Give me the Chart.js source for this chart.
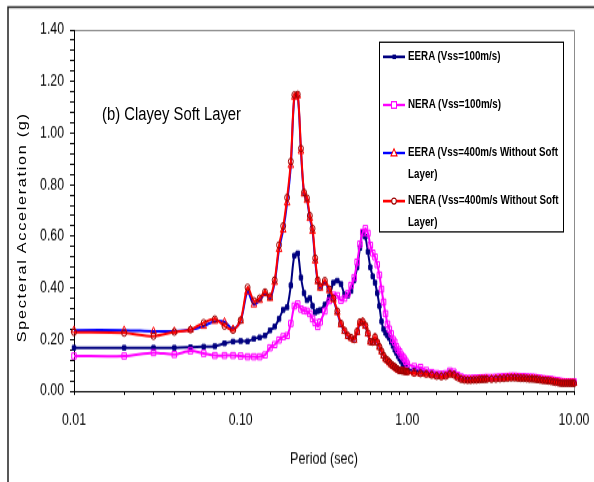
<!DOCTYPE html>
<html>
<head>
<meta charset="utf-8">
<script src="https://cdn.jsdelivr.net/npm/chart.js@4"></script>
<style>
  body { margin: 0; background: #fff; }
  #page { position: relative; width: 594px; height: 482px; }
  /* the original figure is stretched vertically: the chart is drawn 594x371
     and shown 482 px high, the text boxes are scaled the same way */
  #chart { position: absolute; left: 0; top: 0; }
  #wrap { position: absolute; left: 0; top: 0; width: 594px; height: 371px; transform: scaleY(1.2992); transform-origin: 0 0; }
  #note { position: absolute; left: 102px; top: 79px; font-family: "Liberation Sans", Arial, sans-serif;
          font-size: 14.8px; line-height: 17px; white-space: nowrap; }
  #ytitle { position: absolute; left: 22px; top: 174.6px; transform: translate(-50%, -50%) rotate(-90deg);
            font-family: "Liberation Sans", Arial, sans-serif; font-size: 12.5px; letter-spacing: 1.3px; white-space: nowrap; }
  #legend { position: absolute; left: 379px; top: 32.3px; width: 185px; height: 147px; box-sizing: border-box;
            border: 1px solid #000; background: #fff; padding-top: 2px; }
  .item { display: flex; height: 36.9px; }
  .item svg { margin-left: 3px; flex: none; }
  .item span { margin-left: 3px; width: 157px; font-family: "Liberation Sans", Arial, sans-serif;
               font-size: 9.8px; font-weight: bold; line-height: 16.9px; }
</style>
</head>
<body>
<div id="page">
  <canvas id="chart" width="594" height="371" style="width:594px;height:482px"></canvas>
  <div id="wrap">
    <div id="note">(b) Clayey Soft Layer</div>
    <div id="ytitle">Specteral Acceleration (g)</div>
    <div id="legend"></div>
  </div>
</div>
<script>
// period (sec)
const periods = [
  0.01, 0.02, 0.03, 0.04, 0.05, 0.06, 0.07, 0.08, 0.09, 0.10,
  0.11, 0.12, 0.13, 0.14, 0.15, 0.16, 0.17, 0.18, 0.19, 0.20,
  0.21, 0.22, 0.23, 0.24, 0.25, 0.26, 0.27, 0.28, 0.29, 0.30,
  0.32, 0.34, 0.36, 0.38, 0.40, 0.42, 0.44, 0.46, 0.48, 0.50,
  0.52, 0.54, 0.56, 0.58, 0.60, 0.62, 0.64, 0.66, 0.68, 0.70,
  0.72, 0.74, 0.76, 0.78, 0.80, 0.82, 0.84, 0.86, 0.88, 0.90,
  0.92, 0.94, 0.96, 0.98, 1.00,
  1.1, 1.2, 1.3, 1.4, 1.5, 1.6, 1.7, 1.8, 1.9, 2.0,
  2.1, 2.2, 2.3, 2.4, 2.5, 2.6, 2.7, 2.8, 2.9, 3.0,
  3.2, 3.4, 3.6, 3.8, 4.0, 4.2, 4.4, 4.6, 4.8, 5.0,
  5.2, 5.4, 5.6, 5.8, 6.0,
  6.25, 6.5, 6.75, 7.0, 7.25, 7.5, 7.75, 8.0, 8.25, 8.5,
  8.75, 9.0, 9.25, 9.5, 9.75, 10.0
];

// spectral acceleration (g)
const eera100 = [
  0.168, 0.168, 0.168, 0.168, 0.170, 0.172, 0.174, 0.185, 0.192, 0.194,
  0.193, 0.203, 0.208, 0.215, 0.235, 0.250, 0.280, 0.315, 0.325, 0.410,
  0.525, 0.534, 0.440, 0.380, 0.352, 0.360, 0.330, 0.305, 0.310, 0.314,
  0.335, 0.365, 0.420, 0.428, 0.415, 0.375, 0.370, 0.388, 0.430, 0.480,
  0.555, 0.615, 0.598, 0.540, 0.480, 0.445, 0.420, 0.380, 0.330, 0.270,
  0.240, 0.225, 0.215, 0.205, 0.190, 0.175, 0.160, 0.148, 0.135, 0.125,
  0.115, 0.105, 0.098, 0.090, 0.085,
  0.080, 0.078, 0.072, 0.068, 0.064, 0.062, 0.063, 0.072, 0.069, 0.058,
  0.050, 0.046, 0.045, 0.045, 0.046, 0.046, 0.047, 0.048, 0.048, 0.049,
  0.049, 0.050, 0.051, 0.052, 0.053, 0.054, 0.054, 0.053, 0.052, 0.052,
  0.051, 0.050, 0.050, 0.049, 0.048,
  0.046, 0.044, 0.043, 0.042, 0.041, 0.039, 0.037, 0.036, 0.034, 0.033,
  0.033, 0.033, 0.033, 0.033, 0.033, 0.033
];
const nera100 = [
  0.136, 0.136, 0.149, 0.142, 0.156, 0.146, 0.138, 0.138, 0.138, 0.136,
  0.133, 0.133, 0.133, 0.140, 0.168, 0.180, 0.198, 0.211, 0.215, 0.262,
  0.330, 0.338, 0.318, 0.312, 0.310, 0.300, 0.280, 0.265, 0.250, 0.268,
  0.310, 0.350, 0.372, 0.370, 0.352, 0.360, 0.378, 0.410, 0.440, 0.500,
  0.570, 0.615, 0.630, 0.612, 0.565, 0.535, 0.520, 0.490, 0.450, 0.395,
  0.345, 0.300, 0.260, 0.240, 0.222, 0.200, 0.190, 0.172, 0.160, 0.152,
  0.140, 0.133, 0.125, 0.115, 0.105,
  0.095, 0.092, 0.080, 0.072, 0.068, 0.066, 0.068, 0.078, 0.074, 0.062,
  0.055, 0.050, 0.049, 0.049, 0.050, 0.050, 0.051, 0.052, 0.052, 0.053,
  0.053, 0.054, 0.055, 0.056, 0.057, 0.058, 0.058, 0.057, 0.056, 0.056,
  0.055, 0.054, 0.054, 0.053, 0.052,
  0.050, 0.048, 0.047, 0.046, 0.045, 0.043, 0.041, 0.040, 0.038, 0.037,
  0.036, 0.036, 0.036, 0.036, 0.036, 0.036
];
const eera400 = [
  0.236, 0.236, 0.232, 0.232, 0.238, 0.252, 0.271, 0.268, 0.240, 0.272,
  0.385, 0.335, 0.352, 0.378, 0.360, 0.422, 0.550, 0.625, 0.730, 0.875,
  1.140, 1.145, 0.930, 0.765, 0.740, 0.670, 0.620, 0.505, 0.425, 0.400,
  0.420, 0.390, 0.355, 0.305, 0.258, 0.232, 0.213, 0.205, 0.198, 0.228,
  0.264, 0.268, 0.252, 0.222, 0.190, 0.188, 0.207, 0.188, 0.170, 0.153,
  0.137, 0.124, 0.118, 0.110, 0.103, 0.097, 0.093, 0.087, 0.082, 0.079,
  0.078, 0.077, 0.076, 0.075, 0.074,
  0.070, 0.067, 0.065, 0.062, 0.058, 0.057, 0.059, 0.066, 0.063, 0.054,
  0.047, 0.044, 0.043, 0.043, 0.044, 0.044, 0.045, 0.046, 0.046, 0.047,
  0.047, 0.048, 0.049, 0.050, 0.051, 0.052, 0.052, 0.051, 0.050, 0.050,
  0.049, 0.048, 0.048, 0.047, 0.046,
  0.044, 0.042, 0.041, 0.040, 0.039, 0.037, 0.035, 0.034, 0.032, 0.031,
  0.031, 0.031, 0.031, 0.031, 0.031, 0.031
];
const nera400 = [
  0.228, 0.225, 0.213, 0.229, 0.238, 0.265, 0.279, 0.252, 0.236, 0.275,
  0.402, 0.350, 0.360, 0.384, 0.366, 0.430, 0.566, 0.640, 0.750, 0.890,
  1.148, 1.150, 0.940, 0.770, 0.748, 0.680, 0.630, 0.515, 0.430, 0.405,
  0.428, 0.395, 0.360, 0.310, 0.262, 0.235, 0.215, 0.207, 0.200, 0.232,
  0.268, 0.270, 0.255, 0.225, 0.192, 0.190, 0.210, 0.190, 0.172, 0.155,
  0.138, 0.125, 0.120, 0.112, 0.104, 0.098, 0.094, 0.088, 0.083, 0.080,
  0.079, 0.078, 0.077, 0.076, 0.075,
  0.070, 0.068, 0.066, 0.062, 0.058, 0.056, 0.058, 0.066, 0.063, 0.053,
  0.046, 0.043, 0.042, 0.042, 0.043, 0.043, 0.044, 0.045, 0.045, 0.046,
  0.046, 0.047, 0.048, 0.049, 0.050, 0.051, 0.051, 0.050, 0.049, 0.049,
  0.048, 0.047, 0.047, 0.046, 0.045,
  0.043, 0.041, 0.040, 0.039, 0.038, 0.036, 0.034, 0.033, 0.031, 0.030,
  0.030, 0.030, 0.030, 0.030, 0.030, 0.030
];

const seriesNames = [
  "EERA (Vss=100m/s)",
  "NERA (Vss=100m/s)",
  "EERA (Vss=400m/s Without Soft Layer)",
  "NERA (Vss=400m/s Without Soft Layer)"
];
const xTickLabels = ["0.01", "0.10", "1.00", "10.00"];
const yTickLabels = ["0.00", "0.20", "0.40", "0.60", "0.80", "1.00", "1.20", "1.40"];
const xTitle = "Period (sec)";

const sans = "'Liberation Sans', Arial, sans-serif";

function pts(vals) {
  return periods.map((p, i) => ({ x: p, y: vals[i] }));
}

const datasets = [
  { label: seriesNames[0], data: pts(eera100), borderColor: "#000080", backgroundColor: "#000080",
    pointStyle: "rect", pointRadius: 2.4, pointBackgroundColor: "#000080", pointBorderColor: "#000080",
    pointBorderWidth: 1, order: 4 },
  { label: seriesNames[1], data: pts(nera100), borderColor: "#FF00FF", backgroundColor: "#FF00FF",
    pointStyle: "rect", pointRadius: 3.2, pointBackgroundColor: "rgba(0,0,0,0)", pointBorderColor: "#FF00FF",
    pointBorderWidth: 1, order: 3 },
  { label: seriesNames[2], data: pts(eera400), borderColor: "#0000FF", backgroundColor: "#0000FF",
    pointStyle: "triangle", pointRadius: 3.3, pointBackgroundColor: "rgba(0,0,0,0)", pointBorderColor: "#FF0000",
    pointBorderWidth: 1, order: 2 },
  { label: seriesNames[3], data: pts(nera400), borderColor: "#FF0000", backgroundColor: "#FF0000",
    pointStyle: "circle", pointRadius: 2.5, pointBackgroundColor: "rgba(0,0,0,0)", pointBorderColor: "#990000",
    pointBorderWidth: 1, order: 1 }
];
datasets.forEach(d => { d.borderWidth = 2; d.tension = 0.3; d.clip = 8; });

// frame round the whole chart, grey top and right edges of the plot
const frame = {
  id: "frame",
  beforeDraw(chart) {
    const { ctx, chartArea: a } = chart;
    ctx.save();
    ctx.strokeStyle = "#222";
    ctx.lineWidth = 1.5;
    ctx.beginPath();
    ctx.moveTo(8, 371); ctx.lineTo(8, 5.4); ctx.lineTo(594, 5.4);
    ctx.stroke();
    ctx.strokeStyle = "#8c8c8c";
    ctx.lineWidth = 1;
    ctx.beginPath();
    ctx.moveTo(a.left, a.top + 0.5); ctx.lineTo(a.right + 0.5, a.top + 0.5); ctx.lineTo(a.right + 0.5, a.bottom);
    ctx.stroke();
    ctx.restore();
  }
};

new Chart(document.getElementById("chart"), {
  type: "line",
  data: { datasets },
  plugins: [frame],
  options: {
    responsive: false,
    animation: false,
    layout: { padding: { left: 8, top: 23, right: 20, bottom: 8 } },
    plugins: { legend: { display: false }, tooltip: { enabled: false } },
    scales: {
      x: {
        type: "logarithmic",
        min: 0.01,
        max: 10,
        afterFit(s) { s.height = 62; s.paddingLeft = 0; s.paddingRight = 0; },
        ticks: {
          autoSkip: false,
          maxRotation: 0,
          padding: 12,
          color: "#000",
          font: { family: sans, size: 12.3 },
          callback(v) {
            const e = Math.log10(v);
            return Math.abs(e - Math.round(e)) < 1e-6 ? xTickLabels[Math.round(e) + 2] : "";
          }
        },
        grid: { drawOnChartArea: false, tickLength: 3, color: "#000" },
        border: { color: "#000", width: 1 },
        title: { display: true, text: xTitle, color: "#000", font: { family: sans, size: 12.6 },
                 padding: { top: 0, bottom: 2 } }
      },
      y: {
        min: 0,
        max: 1.4,
        afterFit(s) { s.width = 66; s.paddingTop = 0; s.paddingBottom = 0; },
        ticks: {
          stepSize: 0.04,
          autoSkip: false,
          padding: 6,
          color: "#000",
          font: { family: sans, size: 12.3 },
          callback(v) {
            const k = Math.round(v / 0.2);
            return Math.abs(v - k * 0.2) < 1e-6 ? yTickLabels[k] : "";
          }
        },
        grid: { drawOnChartArea: false, tickLength: 4, color: "#000" },
        border: { color: "#000", width: 1 }
      }
    }
  }
});

// legend box with wrapped labels
const samples = [
  '<rect x="9.5" y="7" width="3.5" height="3.5" fill="#000080"/>',
  '<rect x="8.5" y="6.3" width="5" height="5" fill="#fff" stroke="#FF00FF"/>',
  '<path d="M11 5.5 L14 11 L8 11 Z" fill="#fff" stroke="#FF0000"/>',
  '<circle cx="11" cy="8.8" r="2.3" fill="#fff" stroke="#990000"/>'
];
const lineColors = ["#000080", "#FF00FF", "#0000FF", "#FF0000"];
document.getElementById("legend").innerHTML = seriesNames.map((name, i) =>
  '<div class="item"><svg width="22" height="17"><line x1="0" y1="8.8" x2="22" y2="8.8" stroke="' +
  lineColors[i] + '" stroke-width="2"/>' + samples[i] + '</svg><span>' + name + '</span></div>'
).join("");
</script>
</body>
</html>
